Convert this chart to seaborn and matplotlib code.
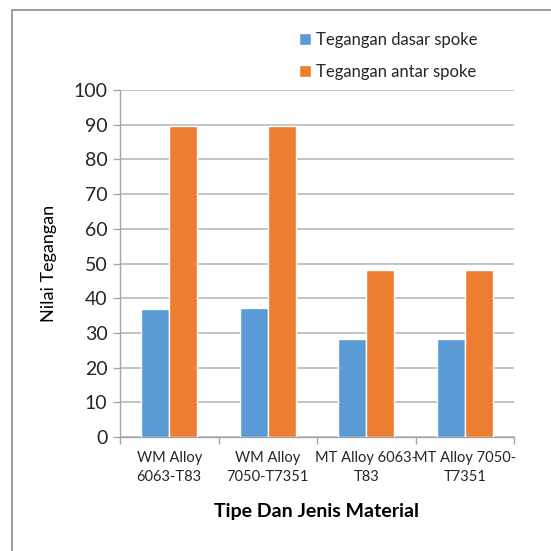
import matplotlib
matplotlib.use("Agg")
import matplotlib.pyplot as plt
import matplotlib.patches as mpatches
from matplotlib.ticker import FixedLocator
import seaborn as sns
import pandas as pd

categories = ["WM Alloy\n6063-T83", "WM Alloy\n7050-T7351", "MT Alloy 6063-\nT83", "MT Alloy 7050-\nT7351"]
series_names = ["Tegangan dasar spoke", "Tegangan antar spoke"]
tegangan_dasar = [37.0, 37.1, 28.1, 28.1]
tegangan_antar = [89.5, 89.5, 48.2, 48.2]
y_ticks = [0, 10, 20, 30, 40, 50, 60, 70, 80, 90, 100]

df = pd.DataFrame({
    "Tipe": categories * 2,
    "Seri": [series_names[0]] * 4 + [series_names[1]] * 4,
    "Nilai": tegangan_dasar + tegangan_antar,
})

sns.set_theme(style="white")
plt.rcParams["font.family"] = ["Lato", "DejaVu Sans"]

W = H = 551
fig = plt.figure(figsize=(5.51, 5.51), dpi=100)
ax = fig.add_axes([120 / W, 1 - 437 / H, (514 - 120) / W, (437 - 90) / H])

palette = {series_names[0]: "#5B9BD5", series_names[1]: "#ED7D31"}
sns.barplot(data=df, x="Tipe", y="Nilai", hue="Seri", palette=palette,
            width=0.57, saturation=1, ax=ax, zorder=3, legend=True)

ax.set_ylim(0, 100)
ax.set_xlim(-0.5, 3.5)
ax.yaxis.set_major_locator(FixedLocator(y_ticks))
ax.grid(axis="y", color="#b3b3b3", linewidth=1.1, zorder=0)
ax.grid(axis="x", visible=False)

for s in ["top", "right"]:
    ax.spines[s].set_visible(False)
for s in ["left", "bottom"]:
    ax.spines[s].set_color("#a6a6a6")
    ax.spines[s].set_linewidth(1.0)

ax.tick_params(axis="y", which="major", length=5, color="#a6a6a6", width=1.0,
               labelsize=14, pad=4, left=True)
ax.tick_params(axis="x", which="major", length=0, labelsize=10.5, pad=10)
ax.set_xticks([-0.5, 0.5, 1.5, 2.5, 3.5], minor=True)
ax.tick_params(axis="x", which="minor", length=5, color="#a6a6a6", width=1.0, bottom=True)
for lbl in ax.get_xticklabels():
    lbl.set_linespacing(1.45)

ax.set_xlabel("Tipe Dan Jenis Material", fontsize=14, fontweight="bold", labelpad=14, color="black")
ax.set_ylabel("Nilai Tegangan", fontsize=13, labelpad=12, color="black")

handles, labels = ax.get_legend_handles_labels()
ax.legend(handles, labels, loc="upper left", bbox_to_anchor=(292 / W, 1 - 25 / H),
          bbox_transform=fig.transFigure, frameon=False, fontsize=12,
          handlelength=0.75, handleheight=0.75, handletextpad=0.3, labelspacing=0.95,
          borderaxespad=0)

# outer chart border (left and top edges visible)
fig.patches.append(mpatches.Rectangle((12 / W, -0.1), 1.2, 1 - 10 / H + 0.1,
                                      transform=fig.transFigure, fill=False,
                                      edgecolor="#8c8c8c", linewidth=1.2))

fig.savefig("out.png", dpi=100)
